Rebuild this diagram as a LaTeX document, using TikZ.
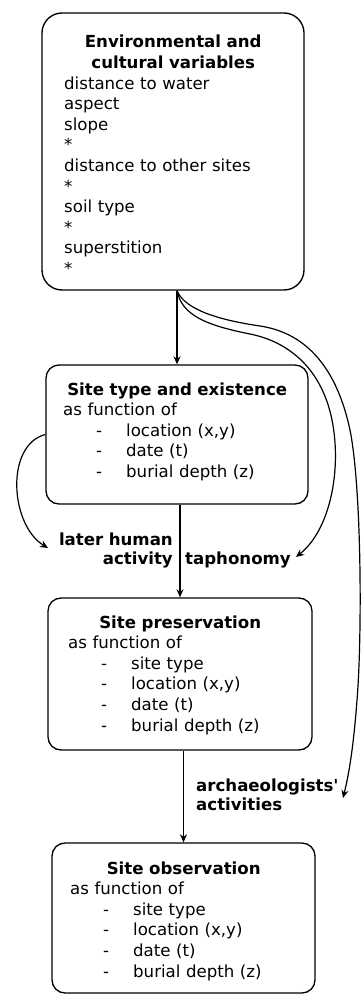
\documentclass[tikz,border=0pt]{standalone}
\usepackage{fontspec}
\setmainfont{DejaVu Sans}
\usetikzlibrary{arrows.meta}
\newcommand\dashitem[1]{\hspace*{33pt}\makebox[30pt][l]{-}#1}
\begin{document}
\begin{tikzpicture}[x=1pt,y=-1pt,
  box/.style={draw, line width=1.35pt, rounded corners=13pt, inner sep=0pt},
  txt/.style={inner sep=0pt, anchor=base west, align=left, font=\fontsize{16.6}{20.6}\selectfont},
  lbl/.style={inner sep=0pt, font=\fontsize{16.6}{19.6}\selectfont\bfseries},
  arr/.style={line width=1.2pt, -{Stealth[length=8pt,width=7pt]}},
  curve/.style={line width=1.2pt, -{Stealth[length=8pt,width=7pt]}}]
\useasboundingbox (0,0) rectangle (360,995);

% boxes
\node[box, rounded corners=20pt, minimum width=262pt, minimum height=277pt] (b1) at (173,151.5) {};
\node[box, minimum width=262pt, minimum height=139pt] (b2) at (177,434.5) {};
\node[box, minimum width=264pt, minimum height=152pt] (b3) at (180,674) {};
\node[box, minimum width=263pt, minimum height=150pt] (b4) at (183.5,918) {};

% box texts
\node[txt, text width=218pt] (t1) at (64,48) {{\centering\bfseries Environmental and\\cultural variables\par}
distance to water\\aspect\\slope\\{*}\\distance to other sites\\{*}\\soil type\\{*}\\superstition\\{*}};
\node[txt, text width=228pt] (t2) at (63,395) {{\centering\bfseries Site type and existence\par}
as function of\\\dashitem{location (x,y)}\\\dashitem{date (t)}\\\dashitem{burial depth (z)}};
\node[txt, text width=224pt] (t3) at (68,628) {{\centering\bfseries Site preservation\par}
as function of\\\dashitem{site type}\\\dashitem{location (x,y)}\\\dashitem{date (t)}\\\dashitem{burial depth (z)}};
\node[txt, text width=227pt] (t4) at (70,874) {{\centering\bfseries Site observation\par}
as function of\\\dashitem{site type}\\\dashitem{location (x,y)}\\\dashitem{date (t)}\\\dashitem{burial depth (z)}};

% labels
\node[lbl, text width=130pt, align=right, anchor=base east] (l1) at (173,545) {later human\\activity};
\node[lbl, anchor=base west] (l2) at (185,564) {taphonomy};
\node[lbl, text width=150pt, align=left, anchor=base west] (l3) at (196,791) {archaeologists\textquotesingle\\activities};

% free ends
\coordinate (tapend) at (296,557);
\coordinate (archend) at (343,798);
\coordinate (lateend) at (48,548);

% straight arrows
\draw[arr] (b1.south -| b2.north) -- (b2.north);
\draw[arr] (b2.south -| b3.north) -- (b3.north);
\draw[arr] (b3.south -| b4.north) -- (b4.north);

% curved arrows
\draw[curve] (b1.south -| b2.north) .. controls (182,315) and (205,325) .. (250,334)
  .. controls (290,342) and (322,370) .. (332,420)
  .. controls (342,470) and (330,530) .. (tapend);
\draw[curve] (b1.south -| b2.north) .. controls (183,305) and (205,318) .. (260,326)
  .. controls (300,332) and (335,360) .. (350,430)
  .. controls (362,490) and (362,640) .. (357,700)
  .. controls (354,740) and (350,770) .. (archend);
\draw[curve] (b2.west) .. controls (5,445) and (10,525) .. (lateend);
\end{tikzpicture}
\end{document}
